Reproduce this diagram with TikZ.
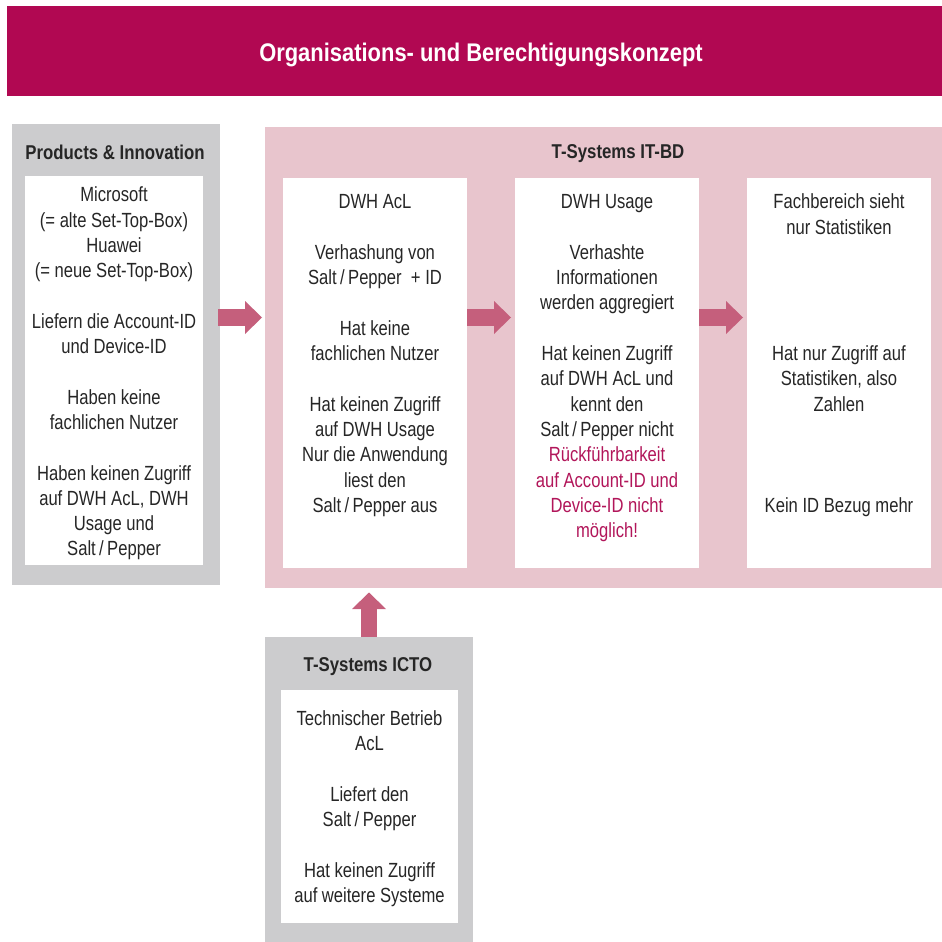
\documentclass[tikz,border=0pt]{standalone}
\usepackage{fontspec}
\setmainfont{Liberation Sans}[FakeStretch=0.81]
\newfontfamily\hfont{Liberation Sans}[FakeStretch=0.84]
\newfontfamily\tfont{Liberation Sans}[FakeStretch=0.86]
\usetikzlibrary{arrows.meta}
\definecolor{hdrc}{HTML}{B10852}
\definecolor{pinkc}{HTML}{E8C5CD}
\definecolor{grayc}{HTML}{CCCCCE}
\definecolor{arrc}{HTML}{C55F7C}
\definecolor{redc}{HTML}{B2165A}
\definecolor{txtc}{HTML}{262626}
\begin{document}
\begin{tikzpicture}[x=1pt,y=-1pt,
  box/.style={inner sep=0pt, outer sep=0pt, anchor=north west},
  body/.style={align=center, inner sep=0pt, anchor=north, text=txtc, font=\fontsize{20.5}{25.3}\selectfont},
  ttl/.style={anchor=base, inner sep=0pt, text=txtc, font=\hfont\bfseries\fontsize{20}{24}\selectfont},
  barrow/.style={draw=arrc, line width=17pt, -{Triangle[length=17pt,width=33pt,line width=0pt]}},
  varrow/.style={draw=arrc, line width=16pt, -{Triangle[length=16.5pt,width=34pt,line width=0pt]}}]
\useasboundingbox (0,0) rectangle (942,942);
% boxes
\node[box, fill=hdrc, minimum width=935pt, minimum height=90pt] (hdr) at (7,6) {};
\node[box, fill=grayc, minimum width=208pt, minimum height=461pt] (prod) at (12,124) {};
\node[box, fill=white, minimum width=178pt, minimum height=389pt] (w0) at (25,176) {};
\node[box, fill=pinkc, minimum width=677pt, minimum height=461pt] (itbd) at (265,127) {};
\node[box, fill=white, minimum width=184pt, minimum height=390pt] (b1) at (283,178) {};
\node[box, fill=white, minimum width=184pt, minimum height=390pt] (b2) at (515,178) {};
\node[box, fill=white, minimum width=184pt, minimum height=390pt] (b3) at (747,178) {};
\node[box, fill=grayc, minimum width=208pt, minimum height=305pt] (icto) at (265,637) {};
\node[box, fill=white, minimum width=177pt, minimum height=233pt] (w4) at (281,690) {};
% arrows
\coordinate (ay) at (0,317.5);
\draw[barrow, shorten <=-2pt, shorten >=3pt] (prod.east |- ay) -- (itbd.west |- ay);
\draw[barrow, shorten >=4pt] (b1.east |- ay) -- (b2.west |- ay);
\draw[barrow, shorten >=4pt] (b2.east |- ay) -- (b3.west |- ay);
\draw[varrow, shorten >=4.5pt] (icto.north) -- (icto.north |- itbd.south);
% titles
\node[anchor=base, inner sep=0pt, text=white, font=\tfont\bfseries\fontsize{25.5}{30}\selectfont] (title) at (481,62) {Organisations- und Berechtigungskonzept};
\node[ttl] (ptitle) at (115,159) {Products \& Innovation};
\node[ttl] (ittitle) at (618,158) {T-Systems IT-BD};
\node[ttl] (ctitle) at (368,671) {T-Systems ICTO};
% texts
\node[body] (t0) at (114,183.8) {\strut Microsoft\\(= alte Set-Top-Box)\\Huawei\\(= neue Set-Top-Box)\\[25.3pt]Liefern die Account-ID\\und Device-ID\\[25.3pt]Haben keine\\fachlichen Nutzer\\[25.3pt]Haben keinen Zugriff\\auf DWH AcL, DWH\\Usage und\\Salt\,/\,Pepper};
\node[body] (t1) at (375,190.8) {\strut DWH AcL\\[25.3pt]Verhashung von\\Salt\,/\,Pepper\ \ + ID\\[25.3pt]Hat keine\\fachlichen Nutzer\\[25.3pt]Hat keinen Zugriff\\auf DWH Usage\\Nur die Anwendung\\liest den\\Salt\,/\,Pepper aus};
\node[body] (t2) at (607,190.8) {\strut DWH Usage\\[25.3pt]Verhashte\\Informationen\\werden aggregiert\\[25.3pt]Hat keinen Zugriff\\auf DWH AcL und\\kennt den\\Salt\,/\,Pepper nicht\\\color{redc}Rückführbarkeit\\\color{redc}auf Account-ID und\\\color{redc}Device-ID nicht\\\color{redc}möglich!};
\node[body] (t3) at (839,190.8) {\strut Fachbereich sieht\\nur Statistiken\\[101.2pt]Hat nur Zugriff auf\\Statistiken, also\\Zahlen\\[75.9pt]Kein ID Bezug mehr};
\node[body] (t4) at (369.5,707.3) {\strut Technischer Betrieb\\AcL\\[25.3pt]Liefert den\\Salt\,/\,Pepper\\[25.3pt]Hat keinen Zugriff\\auf weitere Systeme};
\end{tikzpicture}
\end{document}
